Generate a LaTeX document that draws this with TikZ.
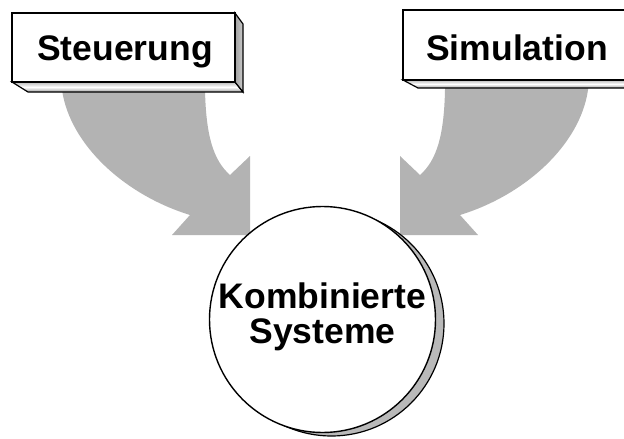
\documentclass[tikz,border=0pt]{standalone}
\usepackage{fontspec}
\setmainfont{Liberation Sans}
\begin{document}
\begin{tikzpicture}[x=1pt,y=-1pt,
  arrowfill/.style={fill=arrowgray,draw=none},
  frontface/.style={fill=white,draw=black,line width=1.6pt,line join=miter},
  sideface/.style={draw=black,line width=1.2pt,line join=miter},
  lbl/.style={font=\fontsize{35.5}{40}\bfseries\selectfont,anchor=base,inner sep=0pt}]
\definecolor{arrowgray}{RGB}{179,179,179}
\useasboundingbox (0,0) rectangle (624,439);
\clip (0,0) rectangle (624,439);
% left curved arrow
\fill[arrowfill] (56,50) -- (62,90) .. controls (70,145) and (125,195) .. (190,215)
  -- (172,235) -- (250,235) -- (250,156) -- (230,175)
  .. controls (213,160) and (206,135) .. (205,90) -- (205,50) -- cycle;
% right curved arrow (mirror about x=325)
\fill[arrowfill] (594,50) -- (588,90) .. controls (580,145) and (525,195) .. (460,215)
  -- (478,235) -- (400,235) -- (400,156) -- (420,175)
  .. controls (437,160) and (444,135) .. (445,90) -- (445,50) -- cycle;
% left box
\shade[top color=gray!55,bottom color=gray!75,middle color=white,sideface]
  (12,82) -- (235,82) -- (243,92) -- (28,92) -- cycle;
\shade[left color=gray!75,right color=gray!40,sideface]
  (235,13) -- (243,24) -- (243,92) -- (235,82) -- cycle;
\draw[frontface] (12,13) rectangle (235,82);
\node[lbl] (steu) at (125,60) {Steuerung};
% right box
\shade[top color=gray!55,bottom color=gray!75,middle color=white,sideface]
  (403,80) -- (650,80) -- (650,88) -- (418,88) -- cycle;
\draw[frontface] (403,10) rectangle (650,80);
\node[lbl] (sim) at (517,60) {Simulation};
% circle with shadow
\draw[fill=gray!55,line width=1.2pt] (331.5,323.5) circle (112.5);
\draw[fill=white,line width=1.4pt] (322.5,319.5) circle (113);
\node[lbl] (komb) at (322.5,308) {Kombinierte};
\node[lbl] (sys) at (322.5,343) {Systeme};
\end{tikzpicture}
\end{document}
